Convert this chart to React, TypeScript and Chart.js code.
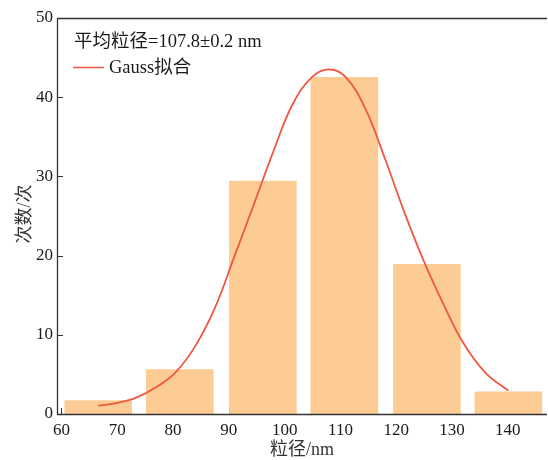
import React, { useEffect, useRef } from "react";
import { Chart, registerables } from "chart.js";

Chart.register(...registerables);

// ---- data ----
const binCenters = [66.6, 81.2, 96.1, 110.7, 125.5, 140.1];
const binCounts = [1.7, 5.6, 29.4, 42.5, 18.9, 2.8];

const fitX = [66.6, 70, 73.5, 77, 80.5, 84, 87.5, 91, 94.5, 98, 101.5, 105, 108.1, 111, 114.5, 118, 121.5, 125, 128.5, 132, 136, 140.1];
const fitY = [1.05, 1.4, 2.1, 3.4, 5.3, 8.6, 13.4, 19.9, 26.5, 33.2, 39.2, 42.6, 43.5, 42.5, 38.5, 32.2, 25.4, 19.2, 13.8, 9.0, 5.2, 2.95];

const xTicks = [60, 70, 80, 90, 100, 110, 120, 130, 140];
const yTicks = [0, 10, 20, 30, 40, 50];

const meanLabel = "平均粒径=107.8±0.2 nm";
const fitLabel = "Gauss拟合";
const xTitle = "粒径/nm";
const yTitle = "次数/次";

const FONT = '"Liberation Serif", "Noto Sans CJK SC", serif';
const AXIS_COLOR = "#333333";
const BAR_COLOR = "#fdcc95";
const LINE_COLOR = "#ef5840";

const framePlugin = {
  id: "frame",
  beforeDatasetsDraw(chart: any) {
    const { ctx, chartArea, scales } = chart;
    const { bottom } = chartArea;
    ctx.save();
    ctx.strokeStyle = AXIS_COLOR;
    ctx.lineWidth = 1;
    ctx.beginPath();
    xTicks.forEach((v) => {
      const px = Math.round(scales.x.getPixelForValue(v)) + 0.5;
      ctx.moveTo(px, bottom);
      ctx.lineTo(px, bottom - 6);
    });
    ctx.stroke();
    ctx.restore();
  },
  afterDraw(chart: any) {
    const { ctx, chartArea, scales } = chart;
    const { left, right, top, bottom } = chartArea;
    ctx.save();
    // frame lines
    ctx.strokeStyle = AXIS_COLOR;
    ctx.lineWidth = 1.3;
    ctx.beginPath();
    ctx.moveTo(left + 0.5, top + 0.5);
    ctx.lineTo(right - 1, top + 0.5);
    ctx.moveTo(left + 0.5, top);
    ctx.lineTo(left + 0.5, bottom + 0.5);
    ctx.lineTo(right - 1, bottom + 0.5);
    ctx.stroke();
    // y ticks inward
    ctx.lineWidth = 1;
    ctx.beginPath();
    yTicks.forEach((v) => {
      const py = Math.round(scales.y.getPixelForValue(v)) + 0.5;
      ctx.moveTo(left, py);
      ctx.lineTo(left + 6, py);
    });
    ctx.stroke();

    // legend
    ctx.fillStyle = "#1a1a1a";
    ctx.font = `18.5px ${FONT}`;
    ctx.textBaseline = "middle";
    ctx.textAlign = "left";
    ctx.fillText(meanLabel, 74, 42);
    ctx.strokeStyle = LINE_COLOR;
    ctx.lineWidth = 1.5;
    ctx.beginPath();
    ctx.moveTo(73, 67.5);
    ctx.lineTo(104, 67.5);
    ctx.stroke();
    ctx.fillText(fitLabel, 109, 68);

    // axis titles
    ctx.font = `18px ${FONT}`;
    ctx.fillStyle = "#333333";
    ctx.textAlign = "center";
    ctx.fillText(xTitle, 302, 450);
    ctx.translate(25, 214);
    ctx.rotate(-Math.PI / 2);
    ctx.fillText(yTitle, 0, 0);
    ctx.restore();
  },
};

export default function App() {
  const canvasRef = useRef<HTMLCanvasElement | null>(null);

  useEffect(() => {
    document.body.style.margin = "0";
    const canvas = canvasRef.current;
    if (!canvas) return;
    const chart = new Chart(canvas, {
      type: "bar",
      data: {
        datasets: [
          {
            type: "line" as any,
            label: fitLabel,
            data: fitX.map((x, i) => ({ x, y: fitY[i] })),
            borderColor: LINE_COLOR,
            borderWidth: 1.8,
            pointRadius: 0,
            tension: 0.4,
            fill: false,
            order: 0,
          } as any,
          {
            type: "bar" as any,
            label: "count",
            data: binCenters.map((x, i) => ({ x, y: binCounts[i] })),
            backgroundColor: BAR_COLOR,
            borderWidth: 0,
            barThickness: 67,
            order: 1,
          } as any,
        ],
      },
      options: {
        responsive: false,
        animation: false,
        events: [],
        layout: { padding: { top: 18, right: 0, left: 0, bottom: 0 } },
        plugins: {
          legend: { display: false },
          tooltip: { enabled: false },
          title: { display: false },
        },
        scales: {
          x: {
            type: "linear",
            min: 59.2,
            max: 147.2,
            offset: false,
            grid: { display: false, drawTicks: false },
            border: { display: false },
            afterBuildTicks: (scale: any) => {
              scale.ticks = xTicks.map((v) => ({ value: v }));
            },
            afterFit: (scale: any) => {
              scale.height = 46;
            },
            ticks: {
              autoSkip: false,
              maxRotation: 0,
              padding: 6,
              color: "#1a1a1a",
              font: { family: FONT, size: 17 },
            },
          },
          y: {
            type: "linear",
            min: 0,
            max: 50,
            grid: { display: false, drawTicks: false },
            border: { display: false },
            afterBuildTicks: (scale: any) => {
              scale.ticks = yTicks.map((v) => ({ value: v }));
            },
            afterFit: (scale: any) => {
              scale.width = 57;
            },
            ticks: {
              padding: 4,
              color: "#1a1a1a",
              font: { family: FONT, size: 17 },
            },
          },
        },
      } as any,
      plugins: [framePlugin],
    });
    return () => chart.destroy();
  }, []);

  return (
    <div style={{ width: 548, height: 460 }}>
      <canvas ref={canvasRef} width={548} height={460} style={{ display: "block" }} />
    </div>
  );
}
